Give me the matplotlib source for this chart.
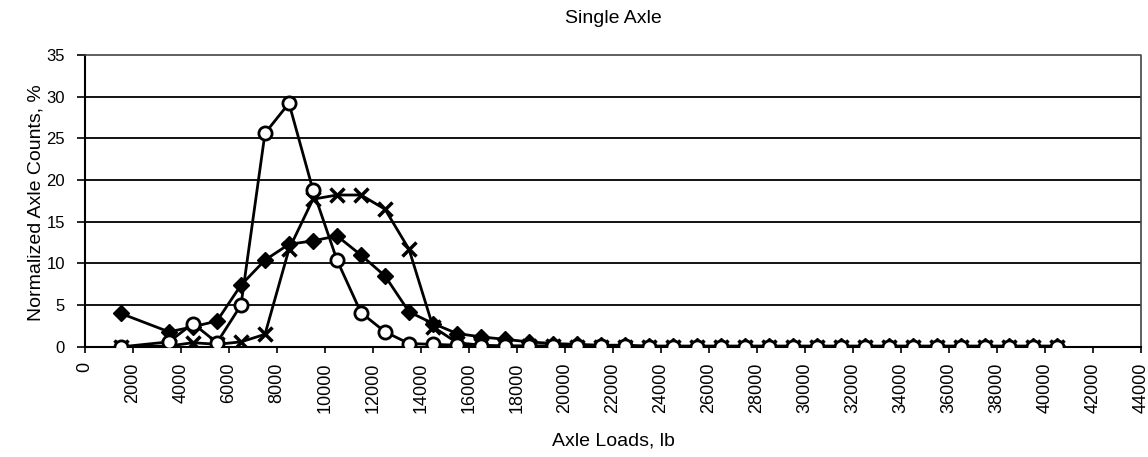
import matplotlib
matplotlib.use("Agg")
import matplotlib.pyplot as plt
import numpy as np

plt.rcParams['font.family'] = ['Liberation Sans', 'DejaVu Sans']

# axle load bins (lb): 1500, then 3500 .. 40500
loads = [1500] + list(range(3500, 41000, 1000))

diamond = [4.0, 1.8, 2.4, 3.1, 7.4, 10.4, 12.3, 12.7, 13.3, 11.0, 8.5, 4.2, 2.8,
           1.6, 1.2, 0.9, 0.6, 0.4, 0.3, 0.2, 0.2, 0.1, 0.1, 0.1, 0.1, 0.1,
           0.1, 0.1, 0.1, 0.1, 0.1, 0.1, 0.1, 0.1, 0.1, 0.1, 0.1, 0.1, 0.1]
circle = [0.0, 0.6, 2.8, 0.5, 5.0, 25.6, 29.2, 18.8, 10.4, 4.1, 1.8, 0.4, 0.3,
          0.2, 0.1, 0.1, 0.1, 0.1, 0.1, 0.1, 0.1, 0.0, 0.0, 0.0, 0.0, 0.0,
          0.0, 0.0, 0.0, 0.0, 0.0, 0.0, 0.0, 0.0, 0.0, 0.0, 0.0, 0.0, 0.0]
cross = [0.0, 0.1, 0.5, 0.3, 0.6, 1.5, 11.7, 17.7, 18.2, 18.2, 16.5, 11.7, 2.4,
         0.5, 0.2, 0.1, 0.1, 0.1, 0.0, 0.0, 0.0, 0.0, 0.0, 0.0, 0.0, 0.0,
         0.0, 0.0, 0.0, 0.0, 0.0, 0.0, 0.0, 0.0, 0.0, 0.0, 0.0, 0.0, 0.0]

fig = plt.figure(figsize=(11.48, 4.57), dpi=100)
ax = fig.add_axes([0.074, 0.241, 0.920, 0.639])

ax.plot(loads, cross, color='black', lw=2, marker='x', ms=10, mew=2.5, zorder=3)
ax.plot(loads, diamond, color='black', lw=2, marker='D', ms=8, zorder=4)
ax.plot(loads, circle, color='black', lw=2, marker='o', ms=9.5, mfc='white',
        mec='black', mew=2, zorder=5)

ax.set_xlim(0, 44000)
ax.set_ylim(0, 35)
ax.set_xticks(np.arange(0, 44001, 2000))
ax.set_yticks(np.arange(0, 36, 5))
ax.tick_params(axis='x', labelrotation=90, direction='out', length=4, width=1.2,
               labelsize=13, pad=7)
ax.tick_params(axis='y', direction='out', length=6, width=1.2, labelsize=12, pad=8.5)

for yv in range(5, 35, 5):
    ax.axhline(yv, color='black', lw=1.3, zorder=1)

ax.spines['left'].set_linewidth(1.5)
ax.spines['bottom'].set_linewidth(1.5)
ax.spines['top'].set_linestyle((0, (1, 1)))
ax.spines['right'].set_linestyle((0, (1, 1)))
ax.spines['top'].set_linewidth(1.2)
ax.spines['right'].set_linewidth(1.2)
ax.spines['top'].set_color('#444444')
ax.spines['right'].set_color('#444444')

ax.set_title('Single Axle', fontsize=14, pad=23)
ax.set_xlabel('Axle Loads, lb', fontsize=14, va='center')
ax.xaxis.set_label_coords(0.5, -0.323)
ax.set_ylabel('Normalized Axle Counts, %', fontsize=14, va='center')
ax.yaxis.set_label_coords(-0.0464, 0.494)

fig.savefig('out.png', dpi=100)
